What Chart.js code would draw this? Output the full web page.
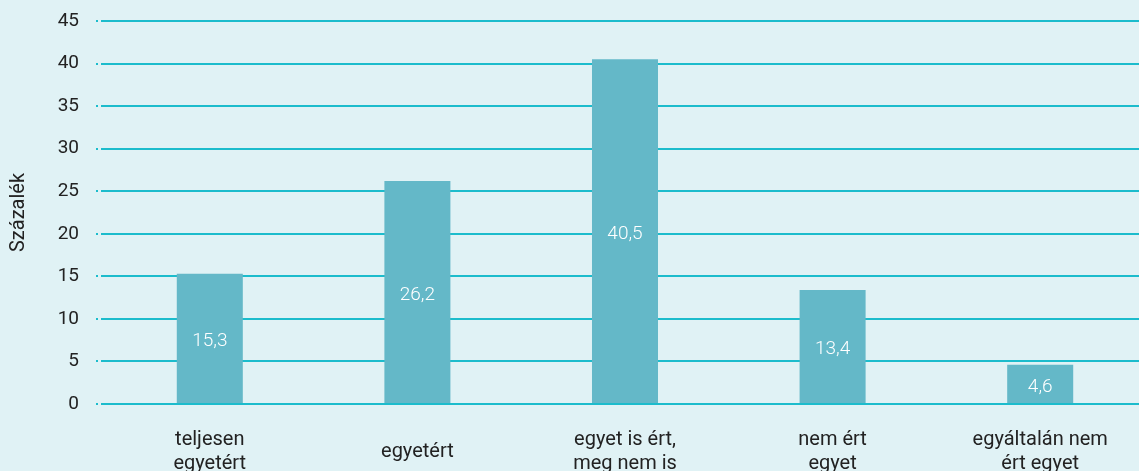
<!DOCTYPE html>
<html>
<head>
<meta charset="utf-8">
<script src="https://cdn.jsdelivr.net/npm/chart.js@4.4.1/dist/chart.umd.min.js"></script>
<style>
  html, body { margin: 0; padding: 0; background: #e0f2f5; overflow: hidden; }
  #wrap { width: 1144px; height: 490px; }
</style>
</head>
<body>
<div id="wrap"><canvas id="chart" width="1144" height="490"></canvas></div>
<script>
// Adatok
const categories = [
    ['teljesen', 'egyetért'],
    'egyetért',
    ['egyet is ért,', 'meg nem is'],
    ['nem ért', 'egyet'],
    ['egyáltalán nem', 'ért egyet']
];
const values = [15.3, 26.2, 40.5, 13.4, 4.6];
const yTitle = 'Százalék';

const fontFamily = 'Roboto, "DejaVu Sans", sans-serif';

// Értékcímkék az oszlopok közepére
const valueLabels = {
    id: 'valueLabels',
    afterDatasetsDraw(chart) {
        const ctx = chart.ctx;
        const meta = chart.getDatasetMeta(0);
        ctx.save();
        ctx.fillStyle = '#ffffff';
        ctx.font = '300 19px ' + fontFamily;
        ctx.textAlign = 'center';
        ctx.textBaseline = 'middle';
        meta.data.forEach((bar, i) => {
            const label = values[i].toFixed(1).replace('.', ',');
            ctx.fillText(label, bar.x, (bar.y + bar.base) / 2 + 3);
        });
        ctx.restore();
    }
};

new Chart(document.getElementById('chart').getContext('2d'), {
    type: 'bar',
    data: {
        labels: categories,
        datasets: [{
            data: values,
            backgroundColor: '#64b8c8',
            barPercentage: 0.318,
            categoryPercentage: 1
        }]
    },
    options: {
        responsive: false,
        animation: false,
        layout: { padding: { top: 21, left: 0, right: 0, bottom: 0 } },
        plugins: { legend: { display: false }, tooltip: { enabled: false } },
        scales: {
            x: {
                grid: { display: false, drawTicks: false },
                border: { display: false },
                ticks: {
                    color: '#222222',
                    font: { family: fontFamily, size: 20, lineHeight: 1.2 },
                    padding: 36,
                    crossAlign: 'center',
                    maxRotation: 0,
                    autoSkip: false
                },
                afterFit(scale) {
                    scale.height = 86;
                    scale.paddingLeft = 0;
                    scale.paddingRight = 0;
                }
            },
            y: {
                min: 0,
                max: 45,
                ticks: {
                    stepSize: 5,
                    color: '#222222',
                    font: { family: fontFamily, size: 19 },
                    padding: 17
                },
                grid: {
                    color: '#1cbccc',
                    lineWidth: 2,
                    drawTicks: true,
                    tickLength: 10,
                    tickColor: '#1cbccc',
                    tickBorderDash: [2, 3, 20]
                },
                border: { display: false },
                title: {
                    display: true,
                    text: yTitle,
                    color: '#222222',
                    font: { family: fontFamily, size: 20, lineHeight: 1.2 },
                    padding: { top: 7, bottom: 0 }
                },
                afterFit(scale) {
                    scale.width = 106;
                    scale.paddingTop = 0;
                    scale.paddingBottom = 0;
                }
            }
        }
    },
    plugins: [valueLabels]
});
</script>
</body>
</html>
